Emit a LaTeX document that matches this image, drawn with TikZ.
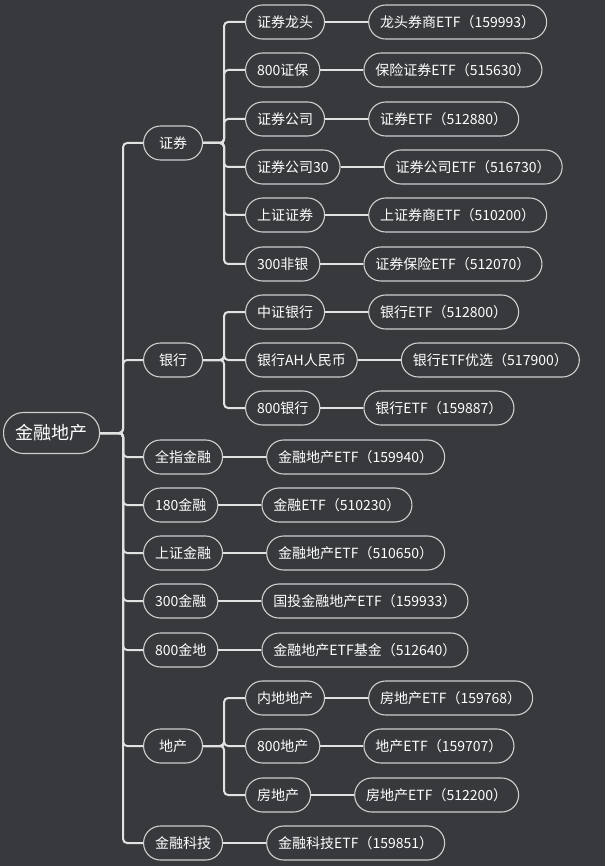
\documentclass[tikz,border=0pt]{standalone}
\usepackage{fontspec}
\setmainfont{Noto Sans CJK SC}
\usepackage{tikz}
\usetikzlibrary{positioning,calc}
\definecolor{bgcolor}{HTML}{37393D}
\definecolor{nodeline}{HTML}{CFCFCF}
\definecolor{linkline}{HTML}{E2E2E2}
\tikzset{ROOT/.style={rectangle,rounded corners=20pt,draw=nodeline,line width=1.1pt,minimum height=41pt,inner xsep=12pt,text=white,font=\fontsize{18}{20}\selectfont,anchor=west}}
\tikzset{TOPIC/.style={rectangle,rounded corners=17pt,draw=nodeline,line width=1.1pt,minimum height=34pt,minimum width=59pt,inner xsep=11.5pt,text=white,font=\fontsize{14}{16}\selectfont,anchor=west}}
\tikzset{LINK/.style={draw=linkline,line width=2pt,rounded corners=4pt}}

\begin{document}
\begin{tikzpicture}[x=1pt,y=1pt]

\fill[bgcolor] (0,0) rectangle (605,-866);
\useasboundingbox (0,0) rectangle (605,-866);

\node[ROOT] (n_root) at (3,-433) {金融地产};

% first level
\node[TOPIC] (n_zq) at (143,-143) {证券};
\node[TOPIC] (n_yh) at (143,-360) {银行};
\node[TOPIC] (n_qzjr) at (143,-457) {全指金融};
\node[TOPIC] (n_180jr) at (143,-505) {180金融};
\node[TOPIC] (n_szjr) at (143,-553) {上证金融};
\node[TOPIC] (n_300jr) at (143,-601) {300金融};
\node[TOPIC] (n_800jd) at (143,-650) {800金地};
\node[TOPIC] (n_dc) at (143,-746) {地产};
\node[TOPIC] (n_jrkj) at (143,-843) {金融科技};

% second level
\node[TOPIC] (n_zqlt) at (245,-22) {证券龙头};
\node[TOPIC] (n_800zb) at (245,-70) {800证保};
\node[TOPIC] (n_zqgs) at (245,-119) {证券公司};
\node[TOPIC] (n_zqgs30) at (245,-167) {证券公司30};
\node[TOPIC] (n_szzq) at (245,-215) {上证证券};
\node[TOPIC] (n_300fy) at (245,-264) {300非银};
\node[TOPIC] (n_zzyh) at (245,-312) {中证银行};
\node[TOPIC] (n_yhah) at (245,-360) {银行AH人民币};
\node[TOPIC] (n_800yh) at (245,-408) {800银行};
\node[TOPIC] (n_nddc) at (245,-698) {内地地产};
\node[TOPIC] (n_800dc) at (245,-746) {800地产};
\node[TOPIC] (n_fdc) at (245,-795) {房地产};

% funds
\node[TOPIC, right=43pt of n_zqlt] (f_zqlt) {龙头券商ETF（159993）};
\node[TOPIC, right=43pt of n_800zb] (f_800zb) {保险证券ETF（515630）};
\node[TOPIC, right=43pt of n_zqgs] (f_zqgs) {证券ETF（512880）};
\node[TOPIC, right=43pt of n_zqgs30] (f_zqgs30) {证券公司ETF（516730）};
\node[TOPIC, right=43pt of n_szzq] (f_szzq) {上证券商ETF（510200）};
\node[TOPIC, right=43pt of n_300fy] (f_300fy) {证券保险ETF（512070）};
\node[TOPIC, right=43pt of n_zzyh] (f_zzyh) {银行ETF（512800）};
\node[TOPIC, right=43pt of n_yhah] (f_yhah) {银行ETF优选（517900）};
\node[TOPIC, right=43pt of n_800yh] (f_800yh) {银行ETF（159887）};
\node[TOPIC, right=43pt of n_qzjr] (f_qzjr) {金融地产ETF（159940）};
\node[TOPIC, right=43pt of n_180jr] (f_180jr) {金融ETF（510230）};
\node[TOPIC, right=43pt of n_szjr] (f_szjr) {金融地产ETF（510650）};
\node[TOPIC, right=43pt of n_300jr] (f_300jr) {国投金融地产ETF（159933）};
\node[TOPIC, right=43pt of n_800jd] (f_800jd) {金融地产ETF基金（512640）};
\node[TOPIC, right=43pt of n_nddc] (f_nddc) {房地产ETF（159768）};
\node[TOPIC, right=43pt of n_800dc] (f_800dc) {地产ETF（159707）};
\node[TOPIC, right=43pt of n_fdc] (f_fdc) {房地产ETF（512200）};
\node[TOPIC, right=43pt of n_jrkj] (f_jrkj) {金融科技ETF（159851）};

% root to first level
\coordinate (c_trunk) at ($(n_root.east)+(23,0)$);
\draw[LINK] (n_root.east) -- (c_trunk) |- (n_zq.west);
\draw[LINK] (n_root.east) -- (c_trunk) |- (n_yh.west);
\draw[LINK] (n_root.east) -- (c_trunk) |- (n_qzjr.west);
\draw[LINK] (n_root.east) -- (c_trunk) |- (n_180jr.west);
\draw[LINK] (n_root.east) -- (c_trunk) |- (n_szjr.west);
\draw[LINK] (n_root.east) -- (c_trunk) |- (n_300jr.west);
\draw[LINK] (n_root.east) -- (c_trunk) |- (n_800jd.west);
\draw[LINK] (n_root.east) -- (c_trunk) |- (n_dc.west);
\draw[LINK] (n_root.east) -- (c_trunk) |- (n_jrkj.west);

% first to second level
\coordinate (c_zq) at ($(n_zq.east)+(21,0)$);
\draw[LINK] (n_zq.east) -- (c_zq) |- (n_zqlt.west);
\draw[LINK] (n_zq.east) -- (c_zq) |- (n_800zb.west);
\draw[LINK] (n_zq.east) -- (c_zq) |- (n_zqgs.west);
\draw[LINK] (n_zq.east) -- (c_zq) |- (n_zqgs30.west);
\draw[LINK] (n_zq.east) -- (c_zq) |- (n_szzq.west);
\draw[LINK] (n_zq.east) -- (c_zq) |- (n_300fy.west);

\coordinate (c_yh) at ($(n_yh.east)+(21,0)$);
\draw[LINK] (n_yh.east) -- (c_yh) |- (n_zzyh.west);
\draw[LINK] (n_yh.east) -- (c_yh) |- (n_yhah.west);
\draw[LINK] (n_yh.east) -- (c_yh) |- (n_800yh.west);

\coordinate (c_dc) at ($(n_dc.east)+(21,0)$);
\draw[LINK] (n_dc.east) -- (c_dc) |- (n_nddc.west);
\draw[LINK] (n_dc.east) -- (c_dc) |- (n_800dc.west);
\draw[LINK] (n_dc.east) -- (c_dc) |- (n_fdc.west);

% to funds
\draw[LINK] (n_zqlt.east) -- (f_zqlt.west);
\draw[LINK] (n_800zb.east) -- (f_800zb.west);
\draw[LINK] (n_zqgs.east) -- (f_zqgs.west);
\draw[LINK] (n_zqgs30.east) -- (f_zqgs30.west);
\draw[LINK] (n_szzq.east) -- (f_szzq.west);
\draw[LINK] (n_300fy.east) -- (f_300fy.west);
\draw[LINK] (n_zzyh.east) -- (f_zzyh.west);
\draw[LINK] (n_yhah.east) -- (f_yhah.west);
\draw[LINK] (n_800yh.east) -- (f_800yh.west);
\draw[LINK] (n_qzjr.east) -- (f_qzjr.west);
\draw[LINK] (n_180jr.east) -- (f_180jr.west);
\draw[LINK] (n_szjr.east) -- (f_szjr.west);
\draw[LINK] (n_300jr.east) -- (f_300jr.west);
\draw[LINK] (n_800jd.east) -- (f_800jd.west);
\draw[LINK] (n_nddc.east) -- (f_nddc.west);
\draw[LINK] (n_800dc.east) -- (f_800dc.west);
\draw[LINK] (n_fdc.east) -- (f_fdc.west);
\draw[LINK] (n_jrkj.east) -- (f_jrkj.west);

\end{tikzpicture}
\end{document}
